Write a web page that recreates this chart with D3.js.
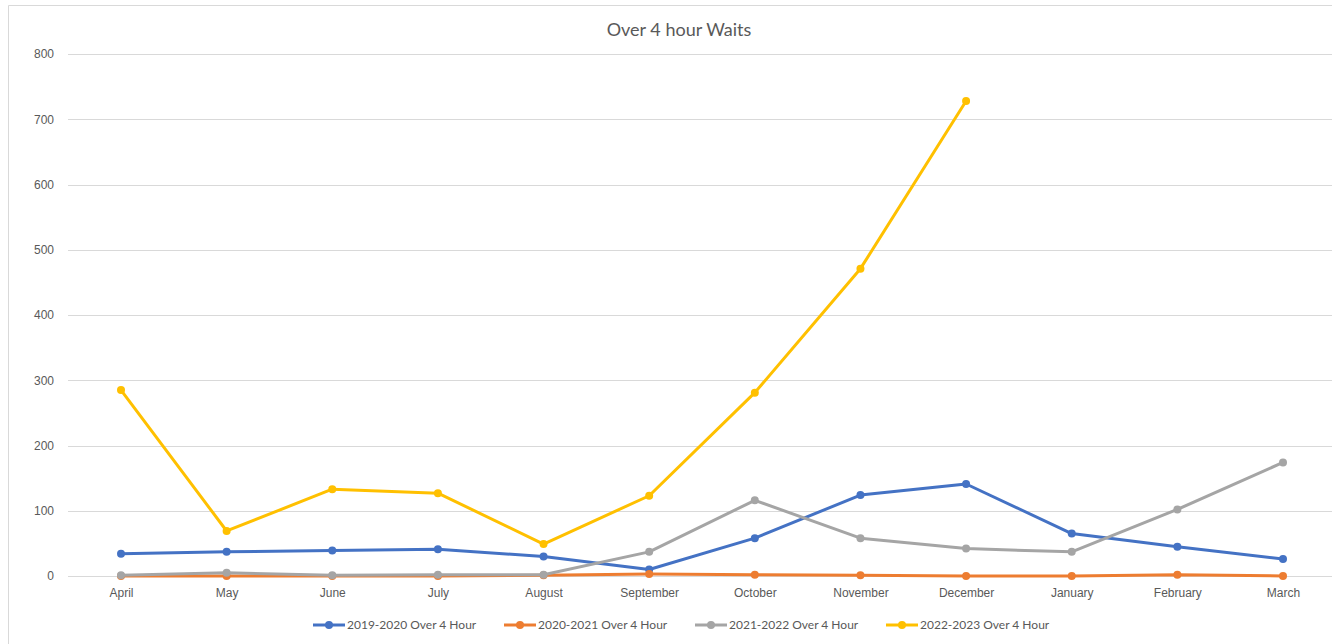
<!DOCTYPE html>
<html>
<head>
<meta charset="utf-8">
<script src="https://cdn.jsdelivr.net/npm/d3@7"></script>
<style>
  html, body { margin: 0; padding: 0; background: #fff; }
  svg { display: block; font-family: Lato, "Open Sans", sans-serif; }
</style>
</head>
<body>
<div id="chart"></div>
<script>
// Data
const months = ["April", "May", "June", "July", "August", "September",
  "October", "November", "December", "January", "February", "March"];
const series1920 = [34, 37, 39, 41, 30, 10, 58, 124, 141, 65, 45, 26];
const series2021 = [0, 0, 0, 0, 1, 3, 2, 1, 0, 0, 2, 0];
const series2122 = [1, 5, 1, 2, 2, 37, 116, 58, 42, 37, 102, 174];
const series2223 = [285, 69, 133, 127, 49, 123, 281, 471, 728, null, null, null];
const seriesNames = ["2019-2020 Over 4 Hour", "2020-2021 Over 4 Hour",
  "2021-2022 Over 4 Hour", "2022-2023 Over 4 Hour"];
const yTicks = [0, 100, 200, 300, 400, 500, 600, 700, 800];

const colors = ["#4472c4", "#ed7d31", "#a5a5a5", "#ffc000"];
const allSeries = [series1920, series2021, series2122, series2223];

function drawChart() {
  const width = 1332, height = 644;
  d3.select("#chart").selectAll("*").remove();

  const svg = d3.select("#chart").append("svg")
    .attr("width", width)
    .attr("height", height);

  // chart frame (cropped on right/bottom like the reference)
  svg.append("path")
    .attr("d", `M8.5,${height} L8.5,5.5 L${width},5.5`)
    .attr("fill", "none")
    .attr("stroke", "#d9d9d9")
    .attr("stroke-width", 1);

  const x = d3.scalePoint()
    .domain(months)
    .range([121, 1283]);

  const y = d3.scaleLinear()
    .domain([0, 800])
    .range([576, 54]);

  // gridlines
  svg.append("g")
    .selectAll("line")
    .data(yTicks)
    .join("line")
    .attr("x1", 68)
    .attr("x2", width)
    .attr("y1", d => Math.round(y(d)) + 0.5)
    .attr("y2", d => Math.round(y(d)) + 0.5)
    .attr("stroke", "#d9d9d9")
    .attr("stroke-width", 1);

  // y axis labels
  const yAxis = d3.axisLeft(y).tickValues(yTicks).tickSize(0).tickPadding(0);
  const gy = svg.append("g")
    .attr("transform", "translate(54,0)")
    .call(yAxis);
  gy.select(".domain").remove();
  gy.selectAll("text")
    .attr("fill", "#595959")
    .style("font-size", "12px");

  // x axis labels
  const xAxis = d3.axisBottom(x).tickSize(0).tickPadding(0);
  const gx = svg.append("g")
    .attr("transform", "translate(0,588)")
    .call(xAxis);
  gx.select(".domain").remove();
  gx.selectAll("text")
    .attr("fill", "#595959")
    .style("font-size", "12px");

  // title
  svg.append("text")
    .attr("x", 679)
    .attr("y", 36)
    .attr("text-anchor", "middle")
    .attr("fill", "#595959")
    .style("font-size", "18px")
    .text("Over 4 hour Waits");

  const line = d3.line()
    .defined(d => d != null)
    .x((d, i) => x(months[i]))
    .y(d => y(d));

  allSeries.forEach((s, k) => {
    const g = svg.append("g");
    g.append("path")
      .datum(s)
      .attr("fill", "none")
      .attr("stroke", colors[k])
      .attr("stroke-width", 3)
      .attr("stroke-linejoin", "round")
      .attr("d", line);
    g.selectAll("circle")
      .data(s.map((v, i) => ({ v, i })).filter(d => d.v != null))
      .join("circle")
      .attr("cx", d => x(months[d.i]))
      .attr("cy", d => y(d.v))
      .attr("r", 4)
      .attr("fill", colors[k]);
  });

  // legend
  const legend = svg.append("g").attr("transform", "translate(313,625)");
  seriesNames.forEach((name, k) => {
    const item = legend.append("g").attr("transform", `translate(${k * 191},0)`);
    item.append("line")
      .attr("x1", 0).attr("x2", 32)
      .attr("y1", 0).attr("y2", 0)
      .attr("stroke", colors[k])
      .attr("stroke-width", 3);
    item.append("circle")
      .attr("cx", 16).attr("cy", 0).attr("r", 4)
      .attr("fill", colors[k]);
    item.append("text")
      .attr("x", 34).attr("y", 4)
      .attr("fill", "#595959")
      .style("font-size", "12px")
      .text(name);
  });
}

drawChart();
</script>
</body>
</html>
